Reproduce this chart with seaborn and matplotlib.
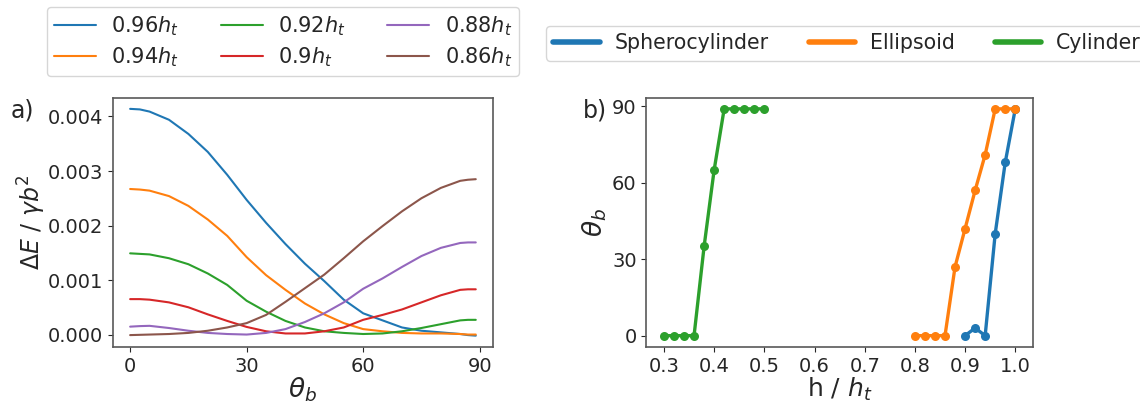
import pandas as pd
import matplotlib.pyplot as plt
import seaborn as sns
from matplotlib.lines import Line2D

# panel a) energy difference vs theta_b
theta = [0, 2.5, 5, 10, 15, 20, 25, 30, 35, 40, 45, 50, 55, 60, 65, 70, 75, 80, 85, 87, 89]
dE_096 = [4.14, 4.13, 4.09, 3.94, 3.68, 3.35, 2.93, 2.47, 2.05, 1.66, 1.30, 0.98, 0.64, 0.39, 0.26, 0.13, 0.07, 0.04, 0.01, -0.01, -0.02]
dE_094 = [2.67, 2.66, 2.64, 2.54, 2.36, 2.11, 1.81, 1.42, 1.09, 0.82, 0.57, 0.37, 0.21, 0.10, 0.06, 0.03, 0.02, 0.02, 0.01, 0.00, 0.00]
dE_092 = [1.49, 1.48, 1.47, 1.40, 1.29, 1.12, 0.91, 0.62, 0.42, 0.25, 0.13, 0.06, 0.03, 0.01, 0.02, 0.06, 0.12, 0.19, 0.26, 0.27, 0.27]
dE_090 = [0.65, 0.65, 0.64, 0.59, 0.50, 0.37, 0.25, 0.14, 0.06, 0.02, 0.02, 0.06, 0.13, 0.27, 0.36, 0.46, 0.59, 0.72, 0.82, 0.83, 0.83]
dE_088 = [0.145, 0.155, 0.16, 0.12, 0.07, 0.03, 0.01, 0.00, 0.03, 0.10, 0.23, 0.39, 0.59, 0.84, 1.03, 1.24, 1.44, 1.59, 1.68, 1.69, 1.69]
dE_086 = [-0.01, -0.005, 0.00, 0.01, 0.03, 0.07, 0.13, 0.21, 0.36, 0.60, 0.85, 1.10, 1.40, 1.71, 1.99, 2.26, 2.50, 2.69, 2.82, 2.84, 2.85]
h_labels = [r'0.96$h_t$', r'0.94$h_t$', r'0.92$h_t$', r'0.9$h_t$', r'0.88$h_t$', r'0.86$h_t$']

# panel b) theta_b vs h / h_t
h_sphero = [0.90, 0.92, 0.94, 0.96, 0.98, 1.00]
th_sphero = [0, 3, 0, 40, 68, 89]
h_ellip = [0.80, 0.82, 0.84, 0.86, 0.88, 0.90, 0.92, 0.94, 0.96, 0.98, 1.00]
th_ellip = [0, 0, 0, 0, 27, 42, 57, 71, 89, 89, 89]
h_cyl = [0.30, 0.32, 0.34, 0.36, 0.38, 0.40, 0.42, 0.44, 0.46, 0.48, 0.50]
th_cyl = [0, 0, 0, 0, 35, 65, 89, 89, 89, 89, 89]
shapes = ['Spherocylinder', 'Ellipsoid', 'Cylinder']

sns.set_style('ticks')
plt.rcParams['font.family'] = ['DejaVu Sans']
plt.rcParams['mathtext.fontset'] = 'dejavusans'

colors = sns.color_palette('tab10')

fig = plt.figure(figsize=(11.4, 4.03), dpi=100)
ax1 = fig.add_axes([0.099, 0.139, 0.3335, 0.619])
ax2 = fig.add_axes([0.567, 0.139, 0.339, 0.619])

# long table for the curves
series = [dE_096, dE_094, dE_092, dE_090, dE_088, dE_086]
rows = []
for lab, vals in zip(h_labels, series):
    for t, v in zip(theta, vals):
        rows.append({'theta': t, 'dE': v / 1000.0, 'h': lab})
df = pd.DataFrame(rows)

sns.lineplot(data=df, x='theta', y='dE', hue='h', hue_order=h_labels,
             palette=colors[:6], linewidth=1.5, ax=ax1, legend=False)
ax1.set_xticks([0, 30, 60, 90])
ax1.set_yticks([0, 0.001, 0.002, 0.003, 0.004])
ax1.set_yticklabels(['0.000', '0.001', '0.002', '0.003', '0.004'])
ax1.set_xlabel(r'$\theta_b$', fontsize=19, labelpad=0)
ax1.set_ylabel(r'$\Delta E$ / $\gamma b^2$', fontsize=17, labelpad=0)
ax1.tick_params(labelsize=14)

for hx, ty, c in [(h_sphero, th_sphero, colors[0]), (h_ellip, th_ellip, colors[1]),
                  (h_cyl, th_cyl, colors[2])]:
    sns.lineplot(x=hx, y=ty, color=c, linewidth=2.4, marker='o', markersize=6.5,
                 markeredgewidth=0, ax=ax2)
ax2.set_xticks([0.3, 0.4, 0.5, 0.6, 0.7, 0.8, 0.9, 1.0])
ax2.set_yticks([0, 30, 60, 90])
ax2.set_xlabel(r'h / $h_t$', fontsize=18, labelpad=0)
ax2.set_ylabel(r'$\theta_b$', fontsize=19, labelpad=2)
ax2.tick_params(labelsize=14)

for ax in (ax1, ax2):
    for sp in ax.spines.values():
        sp.set_color('0.35')
        sp.set_linewidth(1.2)

fig.text(0.009, 0.727, 'a)', fontsize=17, va='center')
fig.text(0.511, 0.727, 'b)', fontsize=17, va='center')

h1 = [Line2D([0], [0], color=colors[i], lw=1.5) for i in range(6)]
fig.legend(h1, h_labels, loc='upper left', bbox_to_anchor=(0.041, 0.983),
           ncol=3, fontsize=15, columnspacing=2.0, handlelength=2.0,
           handletextpad=0.75, labelspacing=0.35, borderpad=0.35,
           borderaxespad=0, frameon=True)

h2 = [Line2D([0], [0], color=colors[i], lw=4) for i in range(3)]
fig.legend(h2, shapes, loc='upper left', bbox_to_anchor=(0.479, 0.935),
           ncol=3, fontsize=14.8, columnspacing=1.95, handlelength=2.25,
           handletextpad=0.73, borderpad=0.35, borderaxespad=0, frameon=True)

fig.savefig('out.png', dpi=100)
